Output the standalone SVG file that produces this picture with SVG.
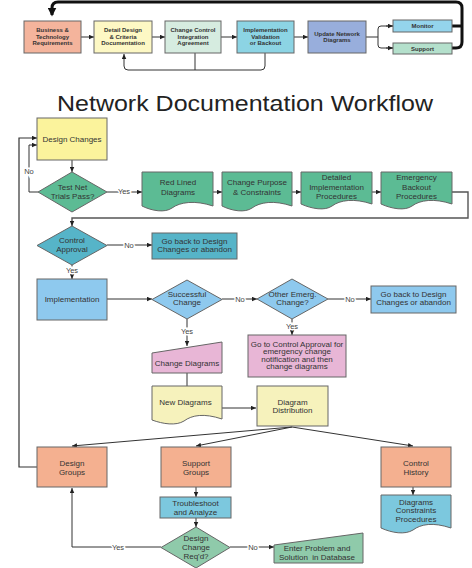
<svg xmlns="http://www.w3.org/2000/svg" width="472" height="568" viewBox="0 0 472 568">
<defs>
<marker id="a" viewBox="0 0 6 6" refX="6" refY="3" markerWidth="5" markerHeight="5" orient="auto" markerUnits="userSpaceOnUse"><path d="M0,0.3 L6,3 L0,5.7z" fill="#222"/></marker>
<marker id="b" viewBox="0 0 6 6" refX="5" refY="3" markerWidth="9" markerHeight="9" orient="auto" markerUnits="userSpaceOnUse"><path d="M0,0 L6,3 L0,6z" fill="#111"/></marker>
</defs>
<style>
text{font-family:"Liberation Sans",Arial,sans-serif;fill:#333;text-anchor:middle}
.t{font-size:6px;font-weight:bold}
.m{font-size:8px}
.l{font-size:7.5px;fill:#444;stroke:#fff;stroke-width:3px;paint-order:stroke}
.s{stroke:#666;stroke-width:1}
.c{fill:none;stroke:#333;stroke-width:1}
.k{fill:none;stroke:#111;stroke-width:3}
</style>
<rect width="472" height="568" fill="#fff"/>

<g id="connectors">
<path class="k" d="M452,48 H456 Q462,48 462,42 V8 Q462,2 456,2 H58 Q52,2 52,8 V15" marker-end="url(#b)"/>
<path class="k" d="M452,26 H462"/>
<path class="c" d="M81,37 H94" marker-end="url(#a)"/>
<path class="c" d="M152,37 H165" marker-end="url(#a)"/>
<path class="c" d="M221,37 H237" marker-end="url(#a)"/>
<path class="c" d="M294,37 H308" marker-end="url(#a)"/>
<path class="c" d="M366,37 H378"/>
<path class="c" d="M393,26 H381 Q378,26 378,29 V45 Q378,48 381,48 H393" />
<path class="c" d="M386,26 H393" marker-end="url(#a)"/>
<path class="c" d="M386,48 H393" marker-end="url(#a)"/>
<path class="c" d="M265,53 V66 Q265,70 261,70 H128 Q124,70 124,66 V54" marker-end="url(#a)"/>
<path class="c" d="M195,53 V70"/>

<path class="c" d="M72,160 V172" marker-end="url(#a)"/>
<path class="c" d="M38,192 H29 V145 H37" marker-end="url(#a)"/>
<path class="c" d="M37,467 H19 V138 H37" marker-end="url(#a)" style="stroke-width:1.2"/>
<path class="c" d="M107,192 H142" marker-end="url(#a)"/>
<path class="c" d="M213,192 H222" marker-end="url(#a)"/>
<path class="c" d="M292,192 H301" marker-end="url(#a)"/>
<path class="c" d="M372,192 H381" marker-end="url(#a)"/>
<path class="c" d="M452,192 H468 V218 H72 V226" marker-end="url(#a)" style="stroke:#555;stroke-width:1.4"/>
<path class="c" d="M107,245 H152" marker-end="url(#a)"/>
<path class="c" d="M72,265 V279" marker-end="url(#a)"/>
<path class="c" d="M107,299 H152" marker-end="url(#a)"/>
<path class="c" d="M222,299 H257" marker-end="url(#a)"/>
<path class="c" d="M328,299 H371" marker-end="url(#a)"/>
<path class="c" d="M292,319 V335" marker-end="url(#a)"/>
<path class="c" d="M187,319 V346" marker-end="url(#a)"/>
<path class="c" d="M187,373 V386"/>
<path class="c" d="M222,408 H256" marker-end="url(#a)"/>
<path class="c" d="M292,427 L72,446" marker-end="url(#a)"/>
<path class="c" d="M292,427 L196,446" marker-end="url(#a)"/>
<path class="c" d="M292,427 L413,446" marker-end="url(#a)"/>
<path class="c" d="M196,487 V497" marker-end="url(#a)"/>
<path class="c" d="M196,518 V527" marker-end="url(#a)"/>
<path class="c" d="M161,547 H72 V488" marker-end="url(#a)"/>
<path class="c" d="M230,547 H274" marker-end="url(#a)"/>
<path class="c" d="M413,487 V495" marker-end="url(#a)"/>

<text class="l" x="29" y="174">No</text>
<text class="l" x="124" y="194">Yes</text>
<text class="l" x="129" y="247.5">No</text>
<text class="l" x="72" y="273">Yes</text>
<text class="l" x="240" y="301.5">No</text>
<text class="l" x="350" y="301.5">No</text>
<text class="l" x="292" y="329">Yes</text>
<text class="l" x="187" y="334">Yes</text>
<text class="l" x="118" y="549.5">Yes</text>
<text class="l" x="253" y="549.5">No</text>
</g>

<g id="n-business"><rect class="s" x="24" y="21" width="57" height="32" fill="#f4b49c"/><text class="t" x="52.5" y="32">Business &amp;</text><text class="t" x="52.5" y="38.5">Technology</text><text class="t" x="52.5" y="45">Requirements</text></g>
<g id="n-detail"><rect class="s" x="94" y="21" width="58" height="32" fill="#fdf8c4"/><text class="t" x="123" y="32">Detail Design</text><text class="t" x="123" y="38.5">&amp; Criteria</text><text class="t" x="123" y="45">Documentation</text></g>
<g id="n-ccia"><rect class="s" x="165" y="21" width="56" height="32" fill="#d6ece0"/><text class="t" x="193" y="32">Change Control</text><text class="t" x="193" y="38.5">Integration</text><text class="t" x="193" y="45">Agreement</text></g>
<g id="n-ivb"><rect class="s" x="237" y="21" width="57" height="32" fill="#8cd4e4"/><text class="t" x="265.5" y="32">Implementation</text><text class="t" x="265.5" y="38.5">Validation</text><text class="t" x="265.5" y="45">or Backout</text></g>
<g id="n-update"><rect class="s" x="308" y="21" width="58" height="32" fill="#98aedc"/><text class="t" x="337" y="35.5">Update Network</text><text class="t" x="337" y="42">Diagrams</text></g>
<g id="n-monitor"><rect class="s" x="393" y="20" width="59" height="12" fill="#94d4ec"/><text class="t" x="422.5" y="28">Monitor</text></g>
<g id="n-support"><rect class="s" x="393" y="43" width="59" height="11" fill="#b4e0cc"/><text class="t" x="422.5" y="50.5">Support</text></g>

<text x="245" y="111" style="font-size:21.5px;fill:#222" textLength="376" lengthAdjust="spacingAndGlyphs">Network Documentation Workflow</text>

<g id="n-designchanges"><rect class="s" x="37" y="118" width="70" height="42" fill="#fbf39c"/><text class="m" x="72" y="141.5">Design Changes</text></g>
<g id="n-testnet"><polygon class="s" points="72,172 107,192 72,212 38,192" fill="#5cbb94"/><text class="m" x="72.5" y="190">Test Net</text><text class="m" x="72.5" y="199">Trials Pass?</text></g>
<g id="n-redlined"><path class="s" d="M142,172 H213 V206 C195,200 180,202 172,208 C165,213 152,211 142,206 Z" fill="#5cbb94"/><text class="m" x="178" y="185">Red Lined</text><text class="m" x="178" y="194.5">Diagrams</text></g>
<g id="n-purpose"><path class="s" d="M222,172 H292 V206 C274,200 260,202 252,208 C245,213 232,211 222,206 Z" fill="#5cbb94"/><text class="m" x="257" y="185">Change Purpose</text><text class="m" x="257" y="194.5">&amp; Constraints</text></g>
<g id="n-detailed"><path class="s" d="M301,172 H372 V204 C354,198 340,200 332,206 C325,211 312,209 301,204 Z" fill="#5cbb94"/><text class="m" x="336.5" y="180">Detailed</text><text class="m" x="336.5" y="189.5">Implementation</text><text class="m" x="336.5" y="199">Procedures</text></g>
<g id="n-emergency"><path class="s" d="M381,172 H452 V204 C434,198 420,200 412,206 C405,211 392,209 381,204 Z" fill="#5cbb94"/><text class="m" x="416.5" y="180">Emergency</text><text class="m" x="416.5" y="189.5">Backout</text><text class="m" x="416.5" y="199">Procedures</text></g>

<g id="n-control"><polygon class="s" points="72,226 107,245.5 72,265 37,245.5" fill="#56b4c8"/><text class="m" x="72" y="243">Control</text><text class="m" x="72" y="252">Approval</text></g>
<g id="n-goback1"><rect class="s" x="152" y="233" width="85" height="26" fill="#56b4c8"/><text class="m" x="194.5" y="243.5">Go back to Design</text><text class="m" x="194.5" y="251.5">Changes or abandon</text></g>
<g id="n-impl"><rect class="s" x="37" y="279" width="70" height="41" fill="#8ec9ee"/><text class="m" x="72" y="302">Implementation</text></g>
<g id="n-success"><polygon class="s" points="187,280 222,299.5 187,319 152,299.5" fill="#8ec9ee"/><text class="m" x="187" y="297">Successful</text><text class="m" x="187" y="305">Change</text></g>
<g id="n-other"><polygon class="s" points="292,279 328,299 292,319 257,299" fill="#8ec9ee"/><text class="m" x="292.5" y="297">Other Emerg.</text><text class="m" x="292.5" y="304.5">Change?</text></g>
<g id="n-goback2"><rect class="s" x="371" y="286" width="85" height="27" fill="#8ec9ee"/><text class="m" x="413.5" y="297">Go back to Design</text><text class="m" x="413.5" y="304.5">Changes or abandon</text></g>
<g id="n-gotocontrol"><rect class="s" x="248" y="335" width="98" height="42" fill="#e8b6d6"/><text class="m" x="297" y="346.5">Go to Control Approval for</text><text class="m" x="297" y="354">emergency change</text><text class="m" x="297" y="361.5">notification and then</text><text class="m" x="297" y="369">change diagrams</text></g>
<g id="n-changediagrams"><polygon class="s" points="152,353 222,342 222,373 152,373" fill="#e8b6d6"/><text class="m" x="187" y="365.5">Change Diagrams</text></g>
<g id="n-newdiagrams"><path class="s" d="M152,386 H222 V419 C204,413 192,415 184,421 C176,426 163,424 152,420 Z" fill="#f6f2bc"/><text class="m" x="185.5" y="404.5">New Diagrams</text></g>
<g id="n-distribution"><rect class="s" x="257" y="386" width="71" height="40" fill="#f6f2bc"/><text class="m" x="292.5" y="404.5">Diagram</text><text class="m" x="292.5" y="413">Distribution</text></g>

<g id="n-designgroups"><rect class="s" x="37" y="447" width="70" height="40" fill="#f4b090"/><text class="m" x="72" y="465.5">Design</text><text class="m" x="72" y="474.5">Groups</text></g>
<g id="n-supportgroups"><rect class="s" x="161" y="447" width="70" height="40" fill="#f4b090"/><text class="m" x="196" y="465.5">Support</text><text class="m" x="196" y="474.5">Groups</text></g>
<g id="n-controlhistory"><rect class="s" x="381" y="447" width="70" height="40" fill="#f4b090"/><text class="m" x="416" y="465.5">Control</text><text class="m" x="416" y="474.5">History</text></g>
<g id="n-troubleshoot"><rect class="s" x="160" y="497" width="71" height="21" fill="#7cc8de"/><text class="m" x="195.5" y="505.5">Troubleshoot</text><text class="m" x="195.5" y="514.5">and Analyze</text></g>
<g id="n-designreq"><polygon class="s" points="196,527 230,547.5 196,568 161,547.5" fill="#8fcaaa"/><text class="m" x="196" y="540.5">Design</text><text class="m" x="196" y="549.5">Change</text><text class="m" x="196" y="558.5">Req'd?</text></g>
<g id="n-enterproblem"><polygon class="s" points="274,545 363,533 363,563 274,563" fill="#8fcaaa"/><text class="m" x="317" y="551">Enter Problem and</text><text class="m" x="317" y="560" xml:space="preserve">Solution  in Database</text></g>
<g id="n-dcp"><path class="s" d="M381,495 H451 V528 C433,522 421,524 413,530 C405,535 392,533 381,528 Z" fill="#7cc8de"/><text class="m" x="416" y="504.5">Diagrams</text><text class="m" x="416" y="513">Constraints</text><text class="m" x="416" y="521.5">Procedures</text></g>
</svg>
